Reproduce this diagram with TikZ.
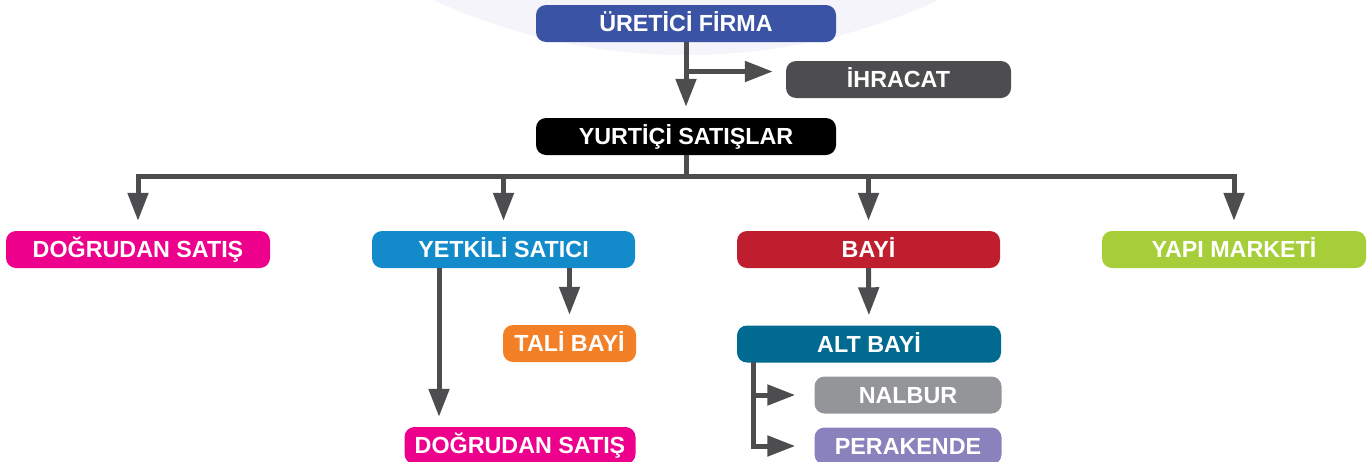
\documentclass[tikz,border=0pt]{standalone}
\usepackage{fontspec}
\setmainfont{Liberation Sans}
\usetikzlibrary{arrows.meta}

% palette
\definecolor{linkgray}{HTML}{4D4D4F}
\definecolor{halo}{HTML}{F4F4FA}
\definecolor{cBlue}{HTML}{3A53A4}
\definecolor{cDark}{HTML}{4D4D4F}
\definecolor{cMagenta}{HTML}{EC008C}
\definecolor{cSky}{HTML}{138BCB}
\definecolor{cRed}{HTML}{BE1E2D}
\definecolor{cLime}{HTML}{A6CE39}
\definecolor{cOrange}{HTML}{F37F26}
\definecolor{cTeal}{HTML}{006A91}
\definecolor{cGray}{HTML}{939598}
\definecolor{cLilac}{HTML}{8A82BD}

\begin{document}
\begin{tikzpicture}[x=1pt,y=-1pt,
  box/.style={rounded corners=10pt, inner sep=0pt, minimum height=37pt,
    text=white, font=\fontsize{23.3}{28}\selectfont\bfseries,
    text height=16.7pt, text depth=0pt},
  link/.style={draw=linkgray, line width=5pt},
  arr/.style={link, -{Triangle[width=20pt,length=28pt]}}]

\useasboundingbox (0,0) rectangle (1370,461);

% soft disc behind the top of the chart
\fill[halo] (686,-551) circle[radius=606];

% boxes
\node[box, fill=cBlue,    minimum width=300pt] (uretici)   at (686,23.5)    {ÜRETİCİ FİRMA};
\node[box, fill=cDark,    minimum width=225pt] (ihracat)   at (898.5,79.5)  {İHRACAT};
\node[box, fill=black,    minimum width=300pt] (yurtici)   at (686,136.5)   {YURTİÇİ SATIŞLAR};
\node[box, fill=cMagenta, minimum width=264pt] (dogrudan)  at (138,249.5)   {DOĞRUDAN SATIŞ};
\node[box, fill=cSky,     minimum width=263pt] (yetkili)   at (503.5,249.5) {YETKİLİ SATICI};
\node[box, fill=cRed,     minimum width=263pt] (bayi)      at (868.5,249.5) {BAYİ};
\node[box, fill=cLime,    minimum width=264pt] (yapi)      at (1234,249.5)  {YAPI MARKETİ};
\node[box, fill=cOrange,  minimum width=133pt] (tali)      at (569.5,343.5) {TALİ BAYİ};
\node[box, fill=cMagenta, minimum width=231pt] (dogrudanB) at (520,445.5)   {DOĞRUDAN SATIŞ};
\node[box, fill=cTeal,    minimum width=264pt] (altbayi)   at (869,344)     {ALT BAYİ};
\node[box, fill=cGray,    minimum width=187pt] (nalbur)    at (908,395)     {NALBUR};
\node[box, fill=cLilac,   minimum width=187pt] (perakende) at (908,446)     {PERAKENDE};

% helper points
\coordinate (split) at (686,71.5);
\coordinate (bus)   at (686,176.5);
\coordinate (yL)    at (439,268);
\coordinate (aL)    at (753,362);

% producer: export branch and domestic sales
\draw[arr] (uretici.south) -- ([yshift=11pt]yurtici.north);
\draw[arr, shorten >=13pt] (split) -- (split -| ihracat.west);

% domestic sales bus
\draw[link] (yurtici.south) -- (bus);
\draw[arr, shorten >=10pt] (bus) -| (dogrudan.north);
\draw[arr, shorten >=10pt] (bus) -| (yapi.north);
\draw[arr, shorten >=10pt] (yetkili.north |- bus) -- (yetkili.north);
\draw[arr, shorten >=10pt] (bayi.north |- bus) -- (bayi.north);

% authorised seller
\draw[arr, shorten >=10pt] (yetkili.south -| tali.north) -- (tali.north);
\draw[arr, shorten >=10pt] (yL) -- (yL |- dogrudanB.north);

% dealer chain
\draw[arr, shorten >=10pt] (bayi.south) -- (altbayi.north);
\draw[arr, shorten >=19pt] (aL) |- (nalbur.west);
\draw[arr, shorten >=19pt] (aL) |- (perakende.west);

\end{tikzpicture}
\end{document}
